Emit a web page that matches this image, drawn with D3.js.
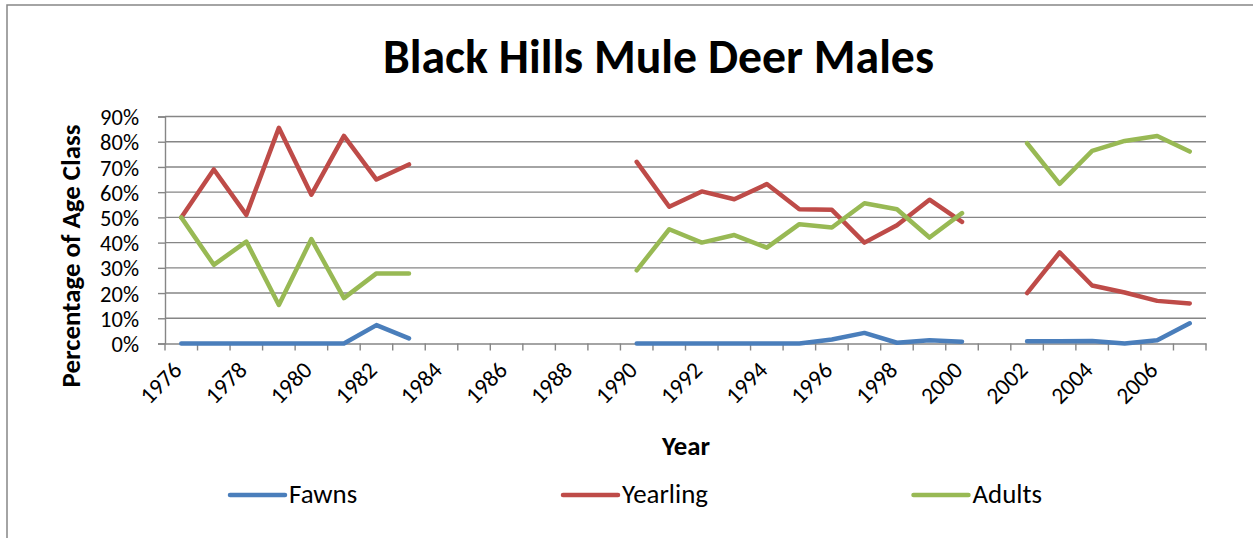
<!DOCTYPE html>
<html>
<head>
<meta charset="utf-8">
<script src="https://cdn.jsdelivr.net/npm/d3@7"></script>
<style>
  html, body { margin: 0; padding: 0; background: #fff; }
  svg { display: block; }
  text { font-family: Carlito, Calibri, Lato, "Open Sans", sans-serif; fill: #000; }
</style>
</head>
<body>
<svg id="chart" width="1253" height="538"></svg>
<script>
// ---- Data ----
const years = d3.range(1976, 2008);
const fawns = [0,0,0,0,0,0,7.3,2, null,null,null,null,null,null,
  0,0,0,0,0,0,1.6,4.2,0.3,1.3,0.7, null, 0.9,0.9,1,0,1.3,8];
const yearling = [50,69,51,85.5,59,82.3,65,71, null,null,null,null,null,null,
  72,54.2,60.3,57.2,63.2,53.2,53,40,46.9,57,48.2, null, 20,36.1,23,20.2,16.9,15.9];
const adults = [50,31.2,40.4,15.3,41.4,18,27.8,27.8, null,null,null,null,null,null,
  29,45.3,40,43,38,47.3,46,55.6,53.2,42,51.7, null, 79.4,63.3,76.4,80.3,82.3,76.1];
const seriesNames = ["Fawns", "Yearling", "Adults"];
const seriesColors = ["#4A7EBB", "#BE4B48", "#98B954"];
const yTicks = [0,10,20,30,40,50,60,70,80,90];
const xLabelYears = d3.range(1976, 2007, 2);
const titleText = "Black Hills Mule Deer Males";
const yTitle = "Percentage of Age Class";
const xTitle = "Year";

// ---- Layout ----
const svg = d3.select("#chart");
const plot = { left: 165, right: 1206, top: 116.5, bottom: 343.5 };

function fit(sel, target, base) {
  sel.style("font-size", base + "px");
  const w = sel.node().getComputedTextLength();
  const s = base * target / w;
  sel.style("font-size", s + "px");
  return s;
}

// outer border
svg.append("rect").attr("x", 7).attr("y", 5).attr("width", 1300).attr("height", 600)
  .attr("fill", "none").attr("stroke", "#868686").attr("stroke-width", 1.5);

const x = d3.scaleBand().domain(years).range([plot.left, plot.right]).paddingInner(0).paddingOuter(0);
const y = d3.scaleLinear().domain([0, 90]).range([plot.bottom, plot.top]);

// gridlines
svg.append("g").selectAll("line").data(yTicks.filter(d => d > 0)).join("line")
  .attr("x1", plot.left).attr("x2", plot.right)
  .attr("y1", d => y(d)).attr("y2", d => y(d))
  .attr("stroke", "#868686").attr("stroke-width", 1.4);

// y axis
const yAxis = svg.append("g").attr("transform", `translate(${plot.left},0)`)
  .call(d3.axisLeft(y).tickValues(yTicks).tickFormat(d => d + "%").tickSize(7).tickPadding(19));
yAxis.attr("font-size", null).attr("font-family", null);
yAxis.select(".domain").attr("stroke", "#868686").attr("stroke-width", 1.4);
yAxis.selectAll(".tick line").attr("stroke", "#868686").attr("stroke-width", 1.4);
yAxis.selectAll(".tick text").style("font-size", "22.5px").attr("dy", "0.36em");

// x axis
const xAxis = svg.append("g").attr("transform", `translate(0,${plot.bottom})`)
  .call(d3.axisBottom(x).tickValues([]).tickSizeOuter(0));
xAxis.select(".domain").attr("stroke", "#868686").attr("stroke-width", 1.4);
const boundaries = years.map(d => x(d)).concat([plot.right]);
xAxis.selectAll(".bnd").data(boundaries).join("line").attr("class", "bnd")
  .attr("x1", d => d).attr("x2", d => d).attr("y1", 0).attr("y2", 7)
  .attr("stroke", "#868686").attr("stroke-width", 1.4);
svg.append("g").selectAll("text").data(xLabelYears).join("text")
  .attr("text-anchor", "end")
  .attr("transform", d => `translate(${x(d) + x.bandwidth() / 2 + 2},${plot.bottom + 28}) rotate(-45)`)
  .style("font-size", "23.5px")
  .text(d => d);

// series lines
const allSeries = [fawns, yearling, adults];
const line = d3.line()
  .defined(d => d.v !== null)
  .x(d => x(d.year) + x.bandwidth() / 2)
  .y(d => y(d.v));
svg.append("g").selectAll("path").data(allSeries).join("path")
  .attr("d", s => line(s.map((v, i) => ({ year: years[i], v }))))
  .attr("fill", "none")
  .attr("stroke", (s, i) => seriesColors[i])
  .attr("stroke-width", 4.5)
  .attr("stroke-linejoin", "round")
  .attr("stroke-linecap", "round");

// title
const t = svg.append("text").attr("x", 658.5).attr("y", 73).attr("text-anchor", "middle")
  .style("font-weight", "bold").text(titleText);
fit(t, 551, 40);

// y title
const yT = svg.append("text").attr("transform", "translate(80,256) rotate(-90)")
  .attr("text-anchor", "middle").style("font-weight", "bold").text(yTitle);
fit(yT, 263, 21);

// x title
const xT = svg.append("text").attr("x", 686).attr("y", 455).attr("text-anchor", "middle")
  .style("font-weight", "bold").text(xTitle);
fit(xT, 48, 21);

// legend
const legX = [230, 563, 913.5];
const lg = svg.append("g").selectAll("g").data(seriesNames).join("g")
  .attr("transform", (d, i) => `translate(${legX[i]},495)`);
lg.append("line").attr("x1", 0).attr("x2", 55).attr("y1", 0).attr("y2", 0)
  .attr("stroke", (d, i) => seriesColors[i]).attr("stroke-width", 4.5).attr("stroke-linecap", "round");
const lt = lg.append("text").attr("x", 59).attr("y", 8).text(d => d);
const ls = fit(lt.filter(d => d === "Yearling"), 86, 21);
lt.style("font-size", ls + "px");
</script>
</body>
</html>
